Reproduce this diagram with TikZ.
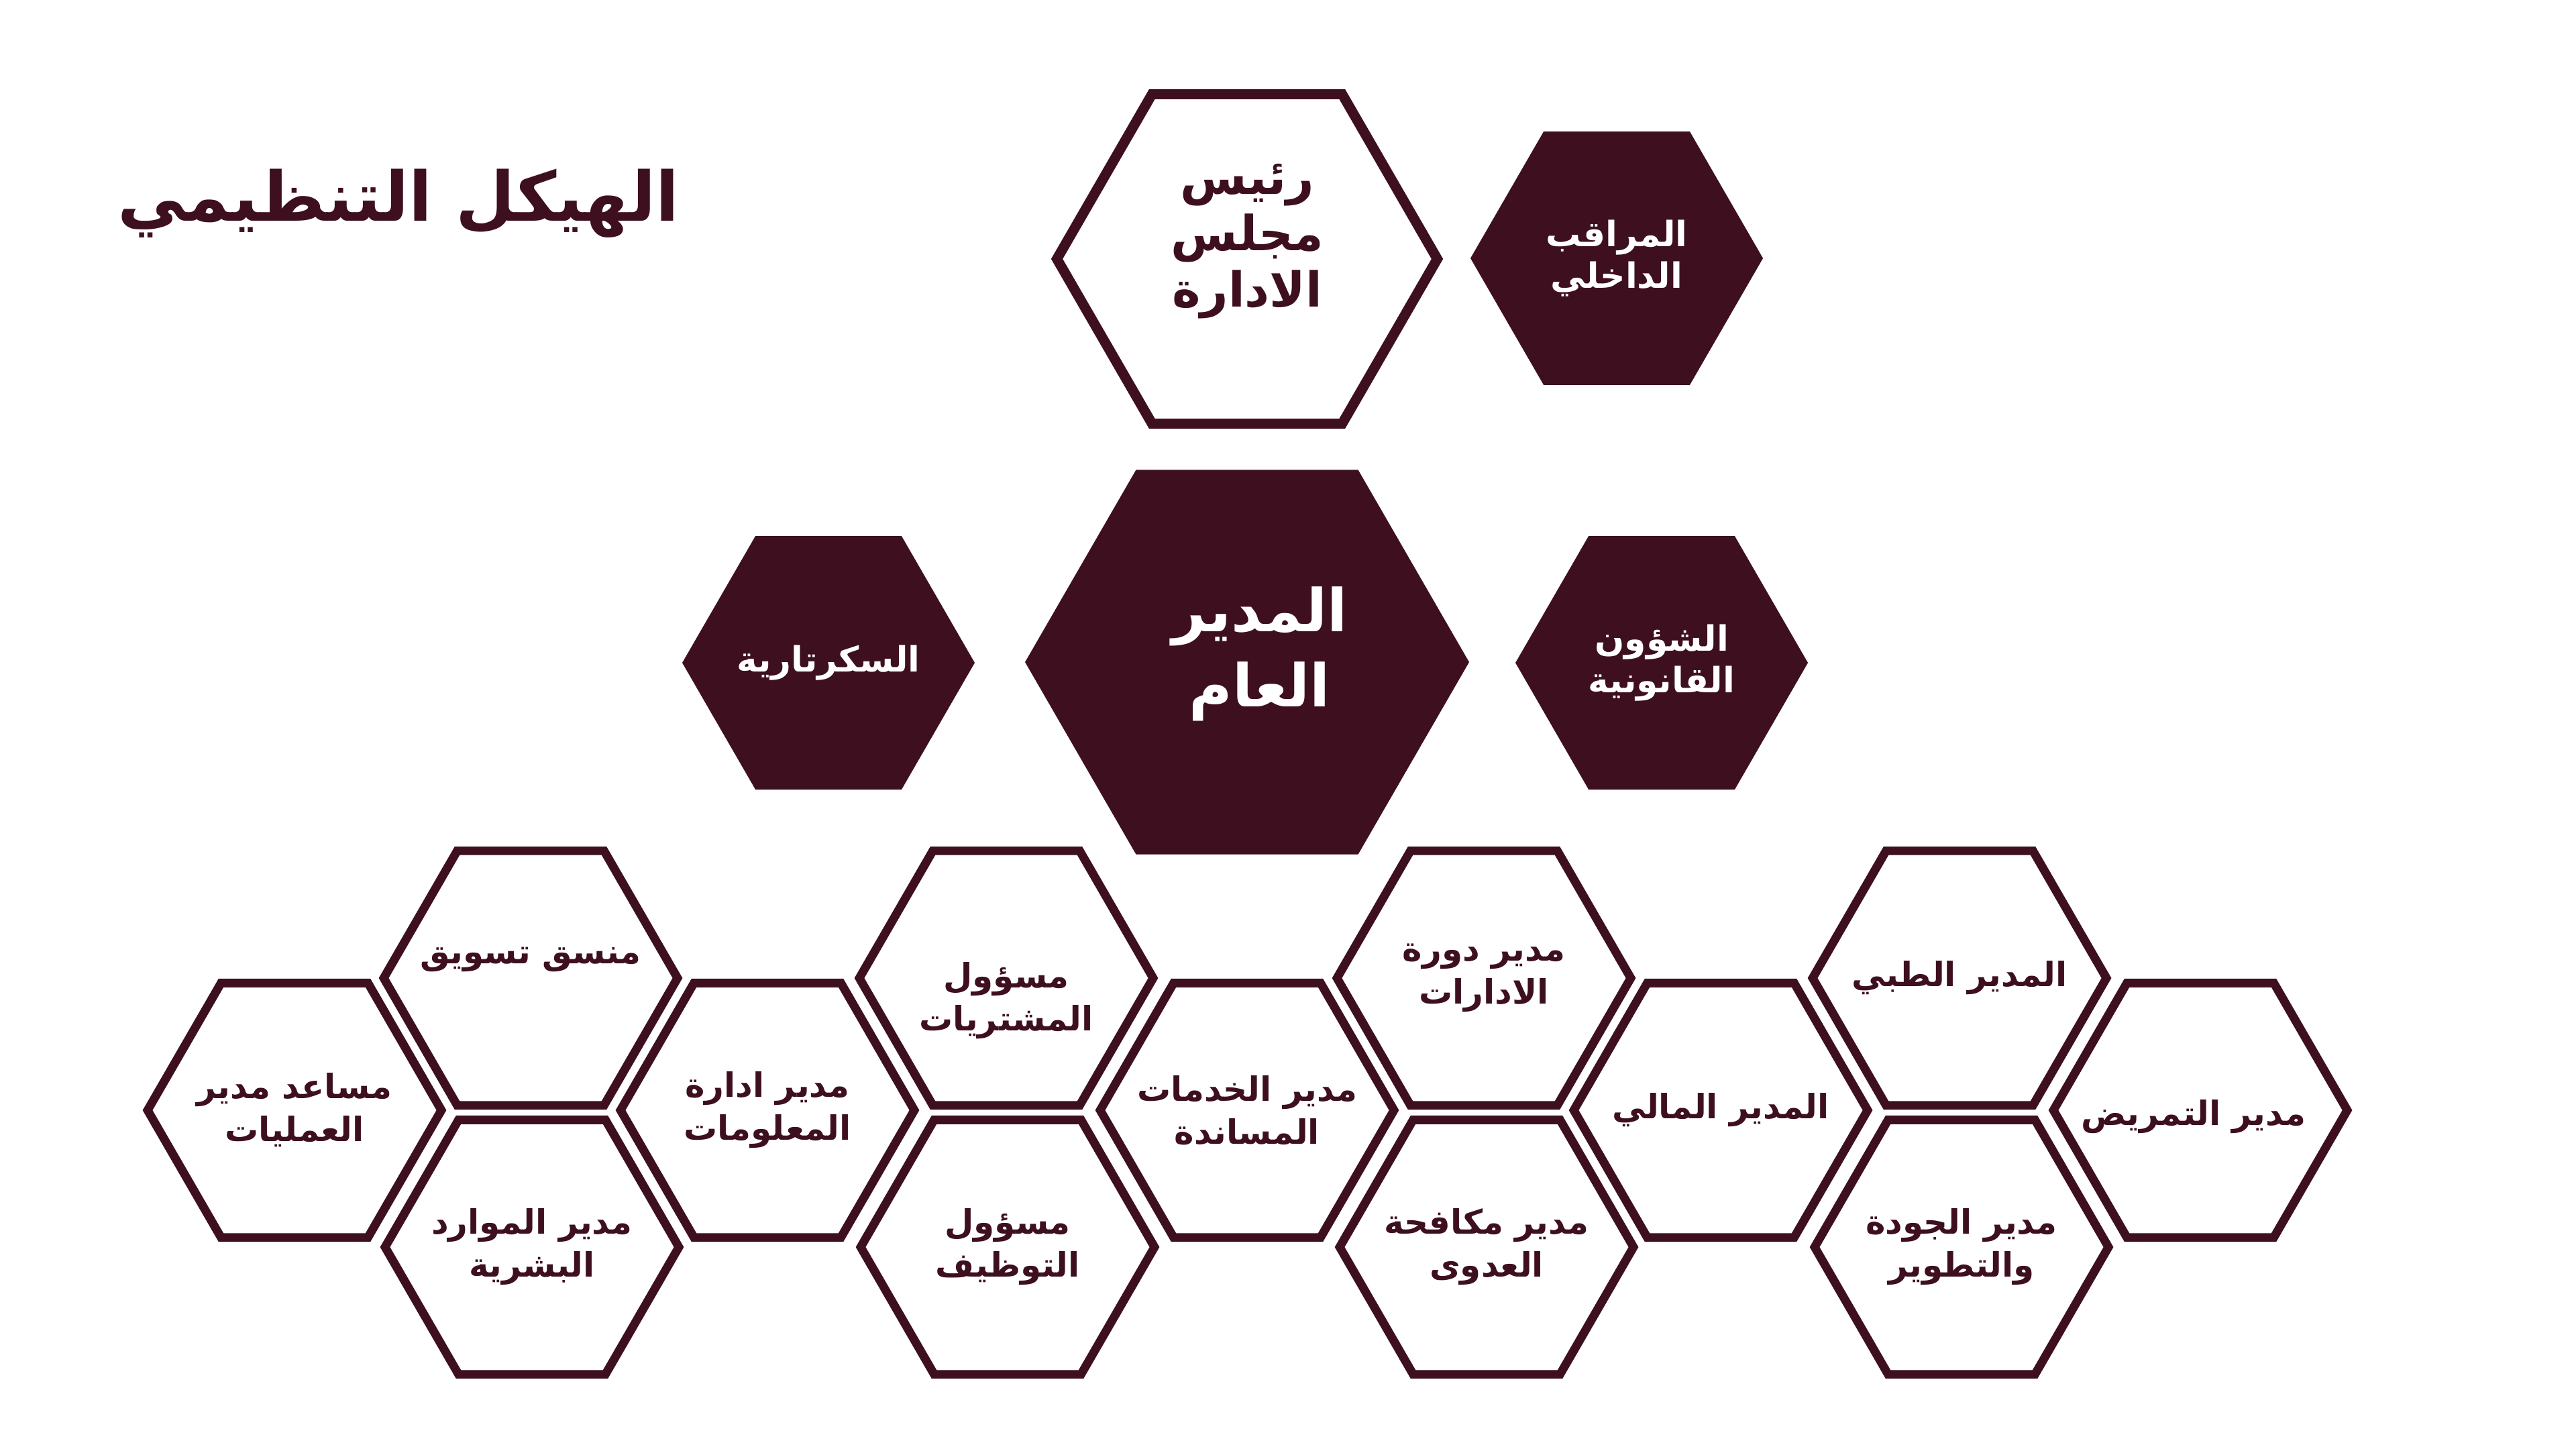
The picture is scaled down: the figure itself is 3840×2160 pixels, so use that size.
\documentclass[tikz,border=0pt]{standalone}
\usepackage{fontspec}
\usetikzlibrary{shapes.geometric}
\newfontfamily\arabicfont[Script=Arabic]{DejaVu Sans}
\TeXXeTstate=1
\definecolor{wine}{RGB}{62,16,31}
\newcommand{\arline}[1]{\beginR#1\endR}

\begin{document}
\begin{tikzpicture}[x=0.25pt, y=-0.25pt,
  cell/.style={regular polygon, regular polygon sides=6, draw=wine, line width=3.2pt, fill=white, inner sep=0pt, minimum size=109.5pt},
  darkcell/.style={regular polygon, regular polygon sides=6, fill=wine, inner sep=0pt, minimum size=109pt},
  celltext/.style={text=wine, align=center, inner sep=0pt, font=\arabicfont\bfseries\fontsize{12.5}{16}\selectfont},
  darktext/.style={text=white, align=center, inner sep=0pt, font=\arabicfont\bfseries\fontsize{13}{15.5}\selectfont}]
  \useasboundingbox[fill=white] (0,0) rectangle (3840,2160);
  \node[anchor=base, text=wine, inner sep=0pt, font=\arabicfont\bfseries\fontsize{25.5}{30}\selectfont] (title) at (594,330) {\arline{الهيكل التنظيمي}};

  \node[cell, line width=3.75pt, minimum size=141.75pt] (chairman) at (1859,386) {};
  \node[celltext, font=\arabicfont\bfseries\fontsize{18}{21}\selectfont] (chairman-t) at (1859,360) {\arline{رئيس}\\\arline{مجلس}\\\arline{الادارة}};
  \node[darkcell] (auditor) at (2410,385) {};
  \node[darktext] (auditor-t) at (auditor) {\arline{المراقب}\\\arline{الداخلي}};

  \node[darkcell, minimum size=165.5pt] (gm) at (1859,987) {};
  \node[darktext, font=\arabicfont\bfseries\fontsize{22}{28}\selectfont] (gm-t) at (1878,975) {\arline{المدير}\\\arline{العام}};
  \node[darkcell] (secretary) at (1235,988) {};
  \node[darktext] (secretary-t) at (secretary) {\arline{السكرتارية}};
  \node[darkcell] (legal) at (2477,988) {};
  \node[darktext] (legal-t) at (legal) {\arline{الشؤون}\\\arline{القانونية}};

  \node[cell] (ops) at (439,1655) {};
  \node[celltext] (ops-t) at (ops) {\arline{مساعد مدير}\\\arline{العمليات}};
  \node[cell] (marketing) at (791,1458) {};
  \node[celltext] (marketing-t) at (791,1430) {\arline{منسق تسويق}};
  \node[cell] (hr) at (793,1859) {};
  \node[celltext] (hr-t) at (hr) {\arline{مدير الموارد}\\\arline{البشرية}};
  \node[cell] (info) at (1144,1655) {};
  \node[celltext] (info-t) at (info) {\arline{مدير ادارة}\\\arline{المعلومات}};
  \node[cell] (purchasing) at (1500,1458) {};
  \node[celltext] (purchasing-t) at (1500,1492) {\arline{مسؤول}\\\arline{المشتريات}};
  \node[cell] (hiring) at (1502,1859) {};
  \node[celltext] (hiring-t) at (hiring) {\arline{مسؤول}\\\arline{التوظيف}};
  \node[cell] (support) at (1859,1655) {};
  \node[celltext] (support-t) at (support) {\arline{مدير الخدمات}\\\arline{المساندة}};
  \node[cell] (rounds) at (2212,1458) {};
  \node[celltext] (rounds-t) at (rounds) {\arline{مدير دورة}\\\arline{الادارات}};
  \node[cell] (infection) at (2216,1859) {};
  \node[celltext] (infection-t) at (infection) {\arline{مدير مكافحة}\\\arline{العدوى}};
  \node[cell] (finance) at (2565,1655) {};
  \node[celltext] (finance-t) at (finance) {\arline{المدير المالي}};
  \node[cell] (medical) at (2921,1458) {};
  \node[celltext] (medical-t) at (medical) {\arline{المدير الطبي}};
  \node[cell] (quality) at (2924,1859) {};
  \node[celltext] (quality-t) at (quality) {\arline{مدير الجودة}\\\arline{والتطوير}};
  \node[cell] (nursing) at (3280,1655) {};
  \node[celltext] (nursing-t) at (3270,1665) {\arline{مدير التمريض}};
\end{tikzpicture}
\end{document}
